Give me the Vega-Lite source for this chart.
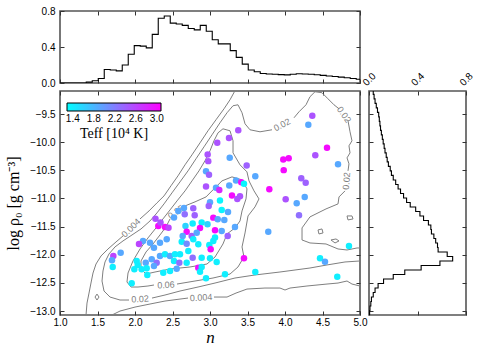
{
"$schema":"https://vega.github.io/schema/vega-lite/v6.json",
"background":"white",
"padding":{"left":4,"top":5,"right":5,"bottom":5},
"columns":2,
"spacing":{"row":8,"column":9},
"bounds":"flush",
"config":{
 "font":"Liberation Sans",
 "view":{"stroke":"#555555","strokeWidth":1.6},
 "axis":{"domain":false,"grid":false,"ticks":true,"tickSize":-4,"tickColor":"#333333","tickWidth":1,"labelFont":"Liberation Sans","labelFontSize":10,"labelColor":"#000000","labelPadding":9,"labelFlush":false,"labelOverlap":false,"titleFontWeight":"normal","titleColor":"#000000"}
},
"datasets":{
 "tophist":[
  {"n":1.0,"f":0},{"n":1.03,"f":0},{"n":1.11,"f":0},{"n":1.19,"f":0},{"n":1.27,"f":0},{"n":1.35,"f":0.01},{"n":1.43,"f":0.025},{"n":1.51,"f":0.05},{"n":1.59,"f":0.15},{"n":1.67,"f":0.145},{"n":1.75,"f":0.135},{"n":1.83,"f":0.2},{"n":1.91,"f":0.32},{"n":1.99,"f":0.415},{"n":2.07,"f":0.41},{"n":2.15,"f":0.39},{"n":2.23,"f":0.54},{"n":2.31,"f":0.72},{"n":2.39,"f":0.745},{"n":2.47,"f":0.665},{"n":2.55,"f":0.655},{"n":2.63,"f":0.64},{"n":2.71,"f":0.605},{"n":2.79,"f":0.59},{"n":2.87,"f":0.64},{"n":2.95,"f":0.575},{"n":3.03,"f":0.48},{"n":3.11,"f":0.435},{"n":3.19,"f":0.435},{"n":3.27,"f":0.36},{"n":3.35,"f":0.285},{"n":3.43,"f":0.21},{"n":3.51,"f":0.145},{"n":3.59,"f":0.125},{"n":3.67,"f":0.105},{"n":3.75,"f":0.1},{"n":3.83,"f":0.097},{"n":3.91,"f":0.093},{"n":3.99,"f":0.09},{"n":4.07,"f":0.097},{"n":4.15,"f":0.103},{"n":4.23,"f":0.1},{"n":4.31,"f":0.097},{"n":4.39,"f":0.092},{"n":4.47,"f":0.085},{"n":4.55,"f":0.078},{"n":4.63,"f":0.072},{"n":4.71,"f":0.065},{"n":4.79,"f":0.058},{"n":4.87,"f":0.05},{"n":4.95,"f":0.042},{"n":5.0,"f":0.042}
 ],
 "righthist":[
  {"r":-13.07,"f":0.005},{"r":-12.99,"f":0.008},{"r":-12.91,"f":0.015},{"r":-12.83,"f":0.02},{"r":-12.75,"f":0.035},{"r":-12.67,"f":0.05},{"r":-12.59,"f":0.075},{"r":-12.51,"f":0.12},{"r":-12.43,"f":0.2},{"r":-12.35,"f":0.295},{"r":-12.27,"f":0.43},{"r":-12.19,"f":0.585},{"r":-12.11,"f":0.69},{"r":-12.03,"f":0.645},{"r":-11.95,"f":0.57},{"r":-11.87,"f":0.565},{"r":-11.79,"f":0.55},{"r":-11.71,"f":0.535},{"r":-11.63,"f":0.515},{"r":-11.55,"f":0.51},{"r":-11.47,"f":0.49},{"r":-11.39,"f":0.45},{"r":-11.31,"f":0.42},{"r":-11.23,"f":0.385},{"r":-11.15,"f":0.34},{"r":-11.07,"f":0.31},{"r":-10.99,"f":0.285},{"r":-10.91,"f":0.26},{"r":-10.83,"f":0.24},{"r":-10.75,"f":0.22},{"r":-10.67,"f":0.2},{"r":-10.59,"f":0.185},{"r":-10.51,"f":0.175},{"r":-10.43,"f":0.16},{"r":-10.35,"f":0.15},{"r":-10.27,"f":0.142},{"r":-10.19,"f":0.132},{"r":-10.11,"f":0.125},{"r":-10.03,"f":0.117},{"r":-9.95,"f":0.11},{"r":-9.87,"f":0.102},{"r":-9.79,"f":0.095},{"r":-9.71,"f":0.09},{"r":-9.63,"f":0.085},{"r":-9.55,"f":0.08},{"r":-9.47,"f":0.07},{"r":-9.39,"f":0.06},{"r":-9.31,"f":0.05},{"r":-9.23,"f":0.042},{"r":-9.15,"f":0.035},{"r":-9.09,"f":0.035}
 ],
 "contours":[
  {"seg":"a1","n":1.347,"r":-13.07},{"seg":"a1","n":1.36,"r":-12.858},{"seg":"a1","n":1.387,"r":-12.68},{"seg":"a1","n":1.413,"r":-12.502},{"seg":"a1","n":1.44,"r":-12.324},{"seg":"a1","n":1.48,"r":-12.164},{"seg":"a1","n":1.547,"r":-12.021},{"seg":"a1","n":1.64,"r":-11.897},{"seg":"a1","n":1.747,"r":-11.772},{"seg":"a1","n":1.84,"r":-11.665},
  {"seg":"a2","n":2.067,"r":-11.363},{"seg":"a2","n":2.187,"r":-11.221},{"seg":"a2","n":2.293,"r":-11.078},{"seg":"a2","n":2.387,"r":-10.954},{"seg":"a2","n":2.48,"r":-10.774},{"seg":"a2","n":2.573,"r":-10.598},{"seg":"a2","n":2.667,"r":-10.402},{"seg":"a2","n":2.76,"r":-10.224},{"seg":"a2","n":2.867,"r":-10.011},{"seg":"a2","n":2.973,"r":-9.797},{"seg":"a2","n":3.08,"r":-9.601},{"seg":"a2","n":3.187,"r":-9.406},{"seg":"a2","n":3.267,"r":-9.246},{"seg":"a2","n":3.333,"r":-9.085},
  {"seg":"a3","n":1.693,"r":-13.07},{"seg":"a3","n":1.8,"r":-13.0},{"seg":"a3","n":2.0,"r":-12.929},{"seg":"a3","n":2.2,"r":-12.875},{"seg":"a3","n":2.4,"r":-12.822},{"seg":"a3","n":2.6,"r":-12.787},{"seg":"a3","n":2.707,"r":-12.769},
  {"seg":"a4","n":3.053,"r":-12.751},{"seg":"a4","n":3.227,"r":-12.751},{"seg":"a4","n":3.347,"r":-12.68},{"seg":"a4","n":3.493,"r":-12.609},{"seg":"a4","n":3.733,"r":-12.591},{"seg":"a4","n":3.933,"r":-12.591},{"seg":"a4","n":4.0,"r":-12.626},{"seg":"a4","n":4.067,"r":-12.591},{"seg":"a4","n":4.293,"r":-12.555},{"seg":"a4","n":4.56,"r":-12.52},{"seg":"a4","n":4.707,"r":-12.502},{"seg":"a4","n":4.827,"r":-12.466},{"seg":"a4","n":4.893,"r":-12.52},{"seg":"a4","n":5.0,"r":-12.555},
  {"seg":"b1","n":5.0,"r":-12.11},{"seg":"b1","n":4.8,"r":-12.128},{"seg":"b1","n":4.56,"r":-12.181},{"seg":"b1","n":4.333,"r":-12.235},{"seg":"b1","n":3.933,"r":-12.306},{"seg":"b1","n":3.6,"r":-12.359},{"seg":"b1","n":3.333,"r":-12.413},{"seg":"b1","n":3.067,"r":-12.502},{"seg":"b1","n":2.84,"r":-12.573},{"seg":"b1","n":2.6,"r":-12.644},{"seg":"b1","n":2.4,"r":-12.715},{"seg":"b1","n":2.227,"r":-12.769},
  {"seg":"b2","n":1.92,"r":-12.804},{"seg":"b2","n":1.8,"r":-12.804},{"seg":"b2","n":1.667,"r":-12.751},{"seg":"b2","n":1.587,"r":-12.644},{"seg":"b2","n":1.56,"r":-12.466},{"seg":"b2","n":1.573,"r":-12.288},{"seg":"b2","n":1.6,"r":-12.128},{"seg":"b2","n":1.653,"r":-11.986},{"seg":"b2","n":1.733,"r":-11.861},{"seg":"b2","n":1.84,"r":-11.754},{"seg":"b2","n":1.96,"r":-11.648},{"seg":"b2","n":2.08,"r":-11.541},{"seg":"b2","n":2.2,"r":-11.399},{"seg":"b2","n":2.293,"r":-11.256},{"seg":"b2","n":2.387,"r":-11.096},{"seg":"b2","n":2.493,"r":-10.9},{"seg":"b2","n":2.6,"r":-10.705},{"seg":"b2","n":2.707,"r":-10.509},{"seg":"b2","n":2.813,"r":-10.295},{"seg":"b2","n":2.92,"r":-10.082},{"seg":"b2","n":3.027,"r":-9.868},{"seg":"b2","n":3.133,"r":-9.655},{"seg":"b2","n":3.227,"r":-9.477},{"seg":"b2","n":3.307,"r":-9.352},{"seg":"b2","n":3.373,"r":-9.335},{"seg":"b2","n":3.427,"r":-9.477},{"seg":"b2","n":3.467,"r":-9.673},{"seg":"b2","n":3.533,"r":-9.779},{"seg":"b2","n":3.667,"r":-9.815},{"seg":"b2","n":3.827,"r":-9.779},
  {"seg":"b3","n":4.12,"r":-9.566},{"seg":"b3","n":4.187,"r":-9.459},{"seg":"b3","n":4.28,"r":-9.335},{"seg":"b3","n":4.333,"r":-9.192},{"seg":"b3","n":4.4,"r":-9.103},{"seg":"b3","n":4.493,"r":-9.121},{"seg":"b3","n":4.573,"r":-9.228},{"seg":"b3","n":4.653,"r":-9.335},{"seg":"b3","n":4.72,"r":-9.406},
  {"seg":"b4","n":4.84,"r":-9.619},{"seg":"b4","n":4.867,"r":-9.815},{"seg":"b4","n":4.893,"r":-9.975},{"seg":"b4","n":4.853,"r":-10.064},{"seg":"b4","n":4.867,"r":-10.189},{"seg":"b4","n":4.827,"r":-10.278},{"seg":"b4","n":4.853,"r":-10.384},{"seg":"b4","n":4.84,"r":-10.509},
  {"seg":"b5","n":4.8,"r":-10.865},{"seg":"b5","n":4.72,"r":-10.972},{"seg":"b5","n":4.707,"r":-11.096},{"seg":"b5","n":4.547,"r":-11.185},{"seg":"b5","n":4.333,"r":-11.327},{"seg":"b5","n":4.227,"r":-11.523},{"seg":"b5","n":4.227,"r":-11.737},{"seg":"b5","n":4.333,"r":-11.79},{"seg":"b5","n":4.547,"r":-11.808},{"seg":"b5","n":4.707,"r":-11.897},{"seg":"b5","n":4.827,"r":-11.915},{"seg":"b5","n":4.96,"r":-11.879},{"seg":"b5","n":5.0,"r":-11.879},
  {"seg":"c1","n":2.56,"r":-12.52},{"seg":"c1","n":2.8,"r":-12.466},{"seg":"c1","n":3.04,"r":-12.413},{"seg":"c1","n":3.267,"r":-12.342},{"seg":"c1","n":3.373,"r":-12.217},{"seg":"c1","n":3.453,"r":-12.039},{"seg":"c1","n":3.427,"r":-11.861},{"seg":"c1","n":3.467,"r":-11.612},{"seg":"c1","n":3.507,"r":-11.31},{"seg":"c1","n":3.6,"r":-11.149},{"seg":"c1","n":3.653,"r":-11.007},{"seg":"c1","n":3.587,"r":-10.865},{"seg":"c1","n":3.52,"r":-10.687},{"seg":"c1","n":3.493,"r":-10.527},{"seg":"c1","n":3.4,"r":-10.402},{"seg":"c1","n":3.307,"r":-10.189},{"seg":"c1","n":3.307,"r":-9.975},{"seg":"c1","n":3.267,"r":-9.797},{"seg":"c1","n":3.173,"r":-9.762},{"seg":"c1","n":3.107,"r":-9.833},{"seg":"c1","n":3.053,"r":-9.975},{"seg":"c1","n":3.0,"r":-10.153},{"seg":"c1","n":2.933,"r":-10.331},{"seg":"c1","n":2.853,"r":-10.509},{"seg":"c1","n":2.76,"r":-10.687},{"seg":"c1","n":2.667,"r":-10.865},{"seg":"c1","n":2.56,"r":-11.043},{"seg":"c1","n":2.467,"r":-11.203},{"seg":"c1","n":2.373,"r":-11.363},{"seg":"c1","n":2.28,"r":-11.523},{"seg":"c1","n":2.173,"r":-11.701},{"seg":"c1","n":2.067,"r":-11.897},{"seg":"c1","n":1.973,"r":-12.11},{"seg":"c1","n":1.907,"r":-12.324},{"seg":"c1","n":1.893,"r":-12.484},{"seg":"c1","n":1.947,"r":-12.573},{"seg":"c1","n":2.04,"r":-12.573},{"seg":"c1","n":2.173,"r":-12.555},{"seg":"c1","n":2.253,"r":-12.537},
  {"seg":"d1","n":2.667,"r":-11.132},{"seg":"d1","n":2.8,"r":-11.06},{"seg":"d1","n":2.947,"r":-10.972},{"seg":"d1","n":3.053,"r":-10.829},{"seg":"d1","n":3.16,"r":-10.687},{"seg":"d1","n":3.293,"r":-10.616},{"seg":"d1","n":3.427,"r":-10.669},{"seg":"d1","n":3.493,"r":-10.829},{"seg":"d1","n":3.48,"r":-11.007},{"seg":"d1","n":3.427,"r":-11.221},{"seg":"d1","n":3.4,"r":-11.399},{"seg":"d1","n":3.333,"r":-11.523},{"seg":"d1","n":3.227,"r":-11.63},{"seg":"d1","n":3.173,"r":-11.808},{"seg":"d1","n":3.067,"r":-12.039},{"seg":"d1","n":2.96,"r":-12.164},{"seg":"d1","n":2.733,"r":-12.217},{"seg":"d1","n":2.467,"r":-12.253},{"seg":"d1","n":2.267,"r":-12.306},{"seg":"d1","n":2.147,"r":-12.342},{"seg":"d1","n":2.08,"r":-12.253},{"seg":"d1","n":2.08,"r":-12.11},{"seg":"d1","n":2.147,"r":-11.95},{"seg":"d1","n":2.24,"r":-11.808},{"seg":"d1","n":2.333,"r":-11.648},{"seg":"d1","n":2.413,"r":-11.505},{"seg":"d1","n":2.467,"r":-11.363},
  {"seg":"i1","n":4.44,"r":-11.559},{"seg":"i1","n":4.493,"r":-11.541},{"seg":"i1","n":4.507,"r":-11.612},{"seg":"i1","n":4.453,"r":-11.63},{"seg":"i1","n":4.44,"r":-11.559},
  {"seg":"i2","n":4.613,"r":-11.737},{"seg":"i2","n":4.68,"r":-11.719},{"seg":"i2","n":4.72,"r":-11.754},{"seg":"i2","n":4.667,"r":-11.79},{"seg":"i2","n":4.613,"r":-11.737},
  {"seg":"i3","n":4.827,"r":-11.31},{"seg":"i3","n":4.893,"r":-11.31},{"seg":"i3","n":4.907,"r":-11.363},{"seg":"i3","n":4.84,"r":-11.381},{"seg":"i3","n":4.827,"r":-11.31},
  {"seg":"i4","n":1.493,"r":-12.698},{"seg":"i4","n":1.52,"r":-12.751},{"seg":"i4","n":1.493,"r":-12.804},{"seg":"i4","n":1.467,"r":-12.751},{"seg":"i4","n":1.493,"r":-12.698}
 ],
 "stars":[
  {"n":4.364,"r":-9.53,"T":2.5},{"n":4.311,"r":-9.69,"T":1.9},{"n":4.56,"r":-10.1,"T":3.0},{"n":4.404,"r":-10.23,"T":2.5},{"n":4.707,"r":-10.39,"T":1.9},{"n":3.977,"r":-10.308,"T":3.0},{"n":4.049,"r":-10.283,"T":3.0},{"n":3.983,"r":-10.496,"T":3.0},{"n":4.217,"r":-10.639,"T":2.4},{"n":4.276,"r":-10.722,"T":2.4},{"n":3.791,"r":-10.835,"T":3.0},{"n":4.009,"r":-11.012,"T":2.5},{"n":4.263,"r":-10.972,"T":1.9},{"n":4.156,"r":-11.084,"T":1.9},{"n":4.187,"r":-11.297,"T":2.3},{"n":3.377,"r":-9.788,"T":2.5},{"n":3.097,"r":-10.011,"T":2.5},{"n":3.253,"r":-9.927,"T":2.5},{"n":2.969,"r":-10.219,"T":2.5},{"n":2.977,"r":-10.336,"T":2.5},{"n":3.263,"r":-10.278,"T":1.9},{"n":3.489,"r":-10.415,"T":2.4},{"n":2.947,"r":-10.514,"T":1.9},{"n":2.987,"r":-10.58,"T":2.4},{"n":3.604,"r":-10.603,"T":1.9},{"n":2.947,"r":-10.788,"T":2.5},{"n":3.08,"r":-10.811,"T":1.9},{"n":3.257,"r":-10.77,"T":1.9},{"n":3.347,"r":-10.681,"T":1.9},{"n":3.417,"r":-10.71,"T":3.0},{"n":3.453,"r":-10.74,"T":1.35},{"n":3.293,"r":-10.948,"T":3.0},{"n":3.124,"r":-10.847,"T":2.8},{"n":3.4,"r":-10.959,"T":2.5},{"n":3.364,"r":-11.007,"T":2.5},{"n":3.133,"r":-11.037,"T":1.35},{"n":3.0,"r":-11.066,"T":1.9},{"n":3.156,"r":-11.203,"T":1.35},{"n":3.24,"r":-11.238,"T":1.9},{"n":2.983,"r":-11.132,"T":2.4},{"n":3.044,"r":-11.34,"T":3.0},{"n":3.103,"r":-11.368,"T":1.9},{"n":3.191,"r":-11.381,"T":1.9},{"n":2.777,"r":-11.173,"T":2.4},{"n":2.653,"r":-11.167,"T":1.9},{"n":2.663,"r":-11.279,"T":2.3},{"n":2.796,"r":-11.297,"T":2.4},{"n":2.769,"r":-11.443,"T":1.4},{"n":2.889,"r":-11.425,"T":1.4},{"n":2.967,"r":-11.457,"T":1.6},{"n":2.673,"r":-11.488,"T":1.6},{"n":2.867,"r":-11.523,"T":3.0},{"n":3.067,"r":-11.564,"T":3.0},{"n":3.156,"r":-11.577,"T":1.9},{"n":3.236,"r":-11.665,"T":2.4},{"n":3.333,"r":-11.505,"T":1.9},{"n":2.689,"r":-11.589,"T":3.0},{"n":2.756,"r":-11.665,"T":2.4},{"n":2.823,"r":-11.607,"T":1.9},{"n":2.623,"r":-11.767,"T":1.4},{"n":2.777,"r":-11.724,"T":1.4},{"n":2.844,"r":-11.813,"T":1.4},{"n":2.689,"r":-11.802,"T":2.1},{"n":2.991,"r":-11.826,"T":1.4},{"n":3.044,"r":-11.754,"T":1.4},{"n":3.067,"r":-11.692,"T":1.4},{"n":3.009,"r":-11.902,"T":3.0},{"n":2.6,"r":-11.991,"T":1.4},{"n":2.711,"r":-11.932,"T":1.4},{"n":2.769,"r":-12.052,"T":2.3},{"n":2.689,"r":-12.141,"T":1.4},{"n":2.889,"r":-12.052,"T":1.4},{"n":3.0,"r":-12.062,"T":1.4},{"n":3.089,"r":-12.128,"T":1.4},{"n":2.844,"r":-12.23,"T":3.0},{"n":2.889,"r":-12.217,"T":1.4},{"n":2.867,"r":-12.301,"T":1.4},{"n":2.947,"r":-12.418,"T":1.4},{"n":3.2,"r":-12.347,"T":1.4},{"n":3.453,"r":-12.062,"T":3.0},{"n":3.604,"r":-12.306,"T":1.4},{"n":3.777,"r":-11.589,"T":1.9},{"n":4.467,"r":-12.062,"T":1.4},{"n":4.533,"r":-12.123,"T":1.9},{"n":4.697,"r":-12.39,"T":1.4},{"n":4.853,"r":-11.843,"T":1.4},{"n":2.311,"r":-11.488,"T":3.0},{"n":2.4,"r":-11.505,"T":3.0},{"n":2.447,"r":-11.518,"T":2.6},{"n":2.34,"r":-11.425,"T":2.5},{"n":2.273,"r":-11.358,"T":2.5},{"n":2.107,"r":-11.754,"T":1.9},{"n":2.2,"r":-11.785,"T":1.9},{"n":2.253,"r":-11.874,"T":1.9},{"n":2.333,"r":-11.785,"T":1.9},{"n":2.423,"r":-11.724,"T":1.9},{"n":2.636,"r":-11.665,"T":1.9},{"n":2.053,"r":-11.808,"T":2.6},{"n":1.711,"r":-12.021,"T":2.6},{"n":1.693,"r":-12.098,"T":1.9},{"n":1.703,"r":-12.217,"T":1.4},{"n":1.809,"r":-11.963,"T":1.9},{"n":2.023,"r":-12.11,"T":1.4},{"n":2.036,"r":-12.181,"T":1.4},{"n":2.143,"r":-12.141,"T":1.9},{"n":2.223,"r":-12.08,"T":1.9},{"n":2.289,"r":-12.141,"T":2.3},{"n":2.333,"r":-12.021,"T":1.9},{"n":2.4,"r":-11.991,"T":1.4},{"n":2.467,"r":-12.021,"T":1.9},{"n":2.533,"r":-11.991,"T":1.4},{"n":2.52,"r":-12.11,"T":1.4},{"n":2.591,"r":-12.141,"T":2.3},{"n":1.991,"r":-12.258,"T":1.4},{"n":2.089,"r":-12.258,"T":1.4},{"n":2.156,"r":-12.24,"T":1.4},{"n":2.253,"r":-12.199,"T":1.9},{"n":2.377,"r":-12.318,"T":1.4},{"n":2.467,"r":-12.288,"T":1.4},{"n":2.556,"r":-12.247,"T":1.9},{"n":1.956,"r":-12.507,"T":1.4},{"n":2.164,"r":-12.359,"T":1.4},{"n":2.52,"r":-11.336,"T":1.9},{"n":2.577,"r":-11.221,"T":1.9}
 ]
},
"concat":[
 {
  "width":300,"height":72,
  "data":{"name":"tophist"},
  "layer":[
   {"mark":{"type":"line","interpolate":"step-after","color":"#000000","strokeWidth":1.1,"clip":true},
    "encoding":{
     "x":{"field":"n","type":"quantitative","scale":{"domain":[1,5],"nice":false,"zero":false},"axis":{"orient":"bottom","values":[1,1.5,2,2.5,3,3.5,4,4.5,5],"labels":false,"title":null}},
     "y":{"field":"f","type":"quantitative","scale":{"domain":[0,0.8],"nice":false,"zero":false},"axis":{"orient":"left","values":[0,0.4,0.8],"format":".1f","title":null}}}},
   {"mark":{"type":"line","opacity":0},
    "encoding":{
     "x":{"field":"n","type":"quantitative","axis":{"orient":"top","values":[1,1.5,2,2.5,3,3.5,4,4.5,5],"labels":false,"title":null}},
     "y":{"field":"f","type":"quantitative","axis":{"orient":"right","values":[0,0.4,0.8],"labels":false,"title":null}}}}
  ],
  "resolve":{"axis":{"x":"independent","y":"independent"}}
 },
 {"width":97,"height":72,"data":{"values":[]},"mark":"point","view":{"stroke":null}},
 {
  "width":300,"height":224,
  "layer":[
   {"data":{"name":"contours"},"mark":{"type":"line","color":"#7f7f7f","strokeWidth":1,"clip":true},
    "encoding":{
     "x":{"field":"n","type":"quantitative","scale":{"domain":[1,5],"nice":false,"zero":false},"axis":{"orient":"top","values":[1,1.5,2,2.5,3,3.5,4,4.5,5],"labels":false,"title":null}},
     "y":{"field":"r","type":"quantitative","scale":{"domain":[-13.07,-9.09],"nice":false,"zero":false},"axis":{"orient":"right","values":[-13,-12.5,-12,-11.5,-11,-10.5,-10,-9.5],"labels":false,"title":null}},
     "detail":{"field":"seg","type":"nominal"},
     "order":{"value":null}}},
   {"data":{"values":[{"n":1.947,"r":-11.523,"t":"0.004"}]},"mark":{"type":"text","angle":-44,"fontSize":9,"color":"#7f7f7f","align":"center","baseline":"middle"},
    "encoding":{"x":{"field":"n","type":"quantitative","axis":null},"y":{"field":"r","type":"quantitative","axis":null},"text":{"field":"t"}}},
   {"data":{"values":[{"n":2.547,"r":-11.238,"t":"0.25"}]},"mark":{"type":"text","angle":-35,"fontSize":9,"color":"#7f7f7f","align":"center","baseline":"middle"},
    "encoding":{"x":{"field":"n","type":"quantitative","axis":null},"y":{"field":"r","type":"quantitative","axis":null},"text":{"field":"t"}}},
   {"data":{"values":[{"n":3.96,"r":-9.69,"t":"0.02"}]},"mark":{"type":"text","angle":-28,"fontSize":9,"color":"#7f7f7f","align":"center","baseline":"middle"},
    "encoding":{"x":{"field":"n","type":"quantitative","axis":null},"y":{"field":"r","type":"quantitative","axis":null},"text":{"field":"t"}}},
   {"data":{"values":[{"n":2.413,"r":-12.537,"t":"0.06"},{"n":2.067,"r":-12.787,"t":"0.02"},{"n":2.88,"r":-12.76,"t":"0.004"}]},"mark":{"type":"text","angle":-3,"fontSize":9,"color":"#7f7f7f","align":"center","baseline":"middle"},
    "encoding":{"x":{"field":"n","type":"quantitative","axis":null},"y":{"field":"r","type":"quantitative","axis":null},"text":{"field":"t"}}},
   {"data":{"values":[{"n":4.787,"r":-9.51,"t":"0.02"}]},"mark":{"type":"text","angle":55,"fontSize":9,"color":"#7f7f7f","align":"center","baseline":"middle"},
    "encoding":{"x":{"field":"n","type":"quantitative","axis":null},"y":{"field":"r","type":"quantitative","axis":null},"text":{"field":"t"}}},
   {"data":{"values":[{"n":4.82,"r":-10.69,"t":"0.02"}]},"mark":{"type":"text","angle":-85,"fontSize":9,"color":"#7f7f7f","align":"center","baseline":"middle"},
    "encoding":{"x":{"field":"n","type":"quantitative","axis":null},"y":{"field":"r","type":"quantitative","axis":null},"text":{"field":"t"}}},
   {"data":{"name":"stars"},"mark":{"type":"circle","size":42,"opacity":1},
    "encoding":{
     "x":{"field":"n","type":"quantitative","axis":{"orient":"bottom","values":[1,1.5,2,2.5,3,3.5,4,4.5,5],"format":".1f","labelPadding":6,"title":"n","titleFont":"Liberation Serif","titleFontStyle":"italic","titleFontSize":17,"titlePadding":2}},
     "y":{"field":"r","type":"quantitative","axis":{"orient":"left","values":[-13,-12.5,-12,-11.5,-11,-10.5,-10,-9.5],"format":".1f","title":"log ρ₀ [g cm⁻³]","titleFont":"Liberation Serif","titleFontSize":16,"titlePadding":8}},
     "color":{"field":"T","type":"quantitative","scale":{"domain":[1.29,3.08],"range":["#00ffff","#ff00ff"],"interpolate":"rgb"},
      "legend":{"orient":"none","legendX":7,"legendY":92,"direction":"horizontal","gradientLength":94,"gradientThickness":8,"gradientStrokeColor":"#000000","gradientStrokeWidth":1,"title":"Teff [10⁴ K]","titleOrient":"bottom","titleAnchor":"middle","titleFont":"Liberation Serif","titleFontSize":14,"titleFontWeight":"normal","titlePadding":3,"labelFont":"Liberation Sans","labelFontSize":10,"labelOffset":3,"values":[1.4,1.8,2.2,2.6,3.0],"format":".1f","labelOverlap":false}}}}
  ],
  "resolve":{"axis":{"x":"independent","y":"independent"}}
 },
 {
  "width":97,"height":224,
  "data":{"name":"righthist"},
  "layer":[
   {"mark":{"type":"line","interpolate":"step-before","orient":"vertical","color":"#000000","strokeWidth":1.1,"clip":true},
    "encoding":{
     "x":{"field":"f","type":"quantitative","scale":{"domain":[0,0.8],"nice":false,"zero":false},"axis":{"orient":"top","values":[0,0.4,0.8],"format":".1f","labelAngle":-45,"labelAlign":"center","labelBaseline":"middle","labelPadding":16,"title":null}},
     "y":{"field":"r","type":"quantitative","scale":{"domain":[-13.07,-9.09],"nice":false,"zero":false},"axis":{"orient":"left","values":[-13,-12.5,-12,-11.5,-11,-10.5,-10,-9.5],"labels":false,"title":null}},
     "order":{"field":"r","type":"quantitative"}}},
   {"mark":{"type":"line","opacity":0,"orient":"vertical"},
    "encoding":{
     "x":{"field":"f","type":"quantitative","axis":{"orient":"bottom","values":[0,0.4,0.8],"labels":false,"title":null}},
     "y":{"field":"r","type":"quantitative","axis":{"orient":"right","values":[-13,-12.5,-12,-11.5,-11,-10.5,-10,-9.5],"labels":false,"title":null}},
     "order":{"field":"r","type":"quantitative"}}}
  ],
  "resolve":{"axis":{"x":"independent","y":"independent"}}
 }
]
}
